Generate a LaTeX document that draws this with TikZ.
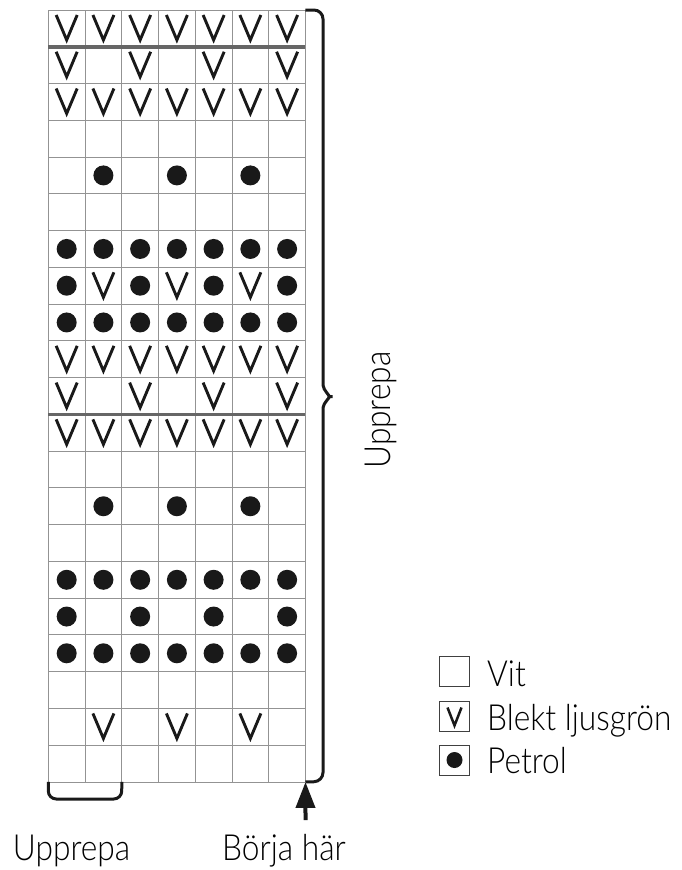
\documentclass[tikz,border=0pt]{standalone}
\usepackage{fontspec}
\setmainfont{Lato Light}[FakeStretch=0.88]
\usetikzlibrary{arrows.meta}

\begin{document}
\begin{tikzpicture}[
  x=1pt,y=-1pt,
  font=\fontsize{36}{40}\selectfont,
  gridline/.style={draw=gray!85,line width=0.9pt},
  rowmark/.style={draw=gray!80!black,line width=3.5pt},
  stitchv/.style={draw=black!90,line width=2.9pt},
  stitchdot/.style={fill=black!90},
  bracket/.style={draw=black!90,line width=3pt,rounded corners=9pt},
  keybox/.style={draw=black!75,line width=0.8pt,minimum size=30pt,inner sep=0pt},
  keylabel/.style={anchor=base west,inner sep=0pt},
  startarrow/.style={-{Triangle[width=19pt,length=26pt]},draw=black!90,line width=4pt}
]
  \useasboundingbox (0,0) rectangle (682,870);

  \begin{scope}[shift={(48.3,10)},x=36.74pt,y=-36.76pt]
    \foreach \c in {0,...,7}
      \draw[gridline] (\c,0) -- (\c,21);
    \foreach \r in {0,...,21}
      \draw[gridline] (0,\r) -- (7,\r);
    \draw[rowmark] (0,1) -- (7,1);
    \draw[rowmark] (0,11) -- (7,11);

    \foreach \r/\cols in {1/{1,...,7},2/{1,3,5,7},3/{1,...,7},8/{2,4,6},
                          10/{1,...,7},11/{1,3,5,7},12/{1,...,7},20/{2,4,6}}
      \foreach \c in \cols
        \draw[stitchv] (\c-0.786,\r-0.864) -- (\c-0.5,\r-0.184) -- (\c-0.214,\r-0.864);

    \foreach \r/\cols in {5/{2,4,6},7/{1,...,7},8/{1,3,5,7},9/{1,...,7},
                          14/{2,4,6},16/{1,...,7},17/{1,3,5,7},18/{1,...,7}}
      \foreach \c in \cols
        \fill[stitchdot] (\c-0.5,\r-0.5) circle[radius=10pt];

    \coordinate (gridNE) at (7,0);
    \coordinate (gridSE) at (7,21);
    \coordinate (gridSW) at (0,21);
    \coordinate (repeatend) at (2,21);
  \end{scope}

  \draw[bracket] (gridNE) -- (323,10) -- (323,376)
    .. controls (323,390) and (331,396.7) .. (338,396.7)
    .. controls (331,396.7) and (323,403) .. (323,417)
    -- (323,781.5) -- (gridSE);
  \draw[bracket,rounded corners=8pt] (gridSW) -- (48.3,799) -- (121.7,799) -- (repeatend);

  \coordinate (arrowfoot) at (305.5,820);
  \draw[startarrow] (arrowfoot) -- (gridSE);

  \node[rotate=90] (sidelabel) at (381,410) {Upprepa};
  \node[anchor=base] (repeatlabel) at (71.5,860) {Upprepa};
  \node[anchor=base] (startlabel) at (284,860) {Börja här};

  \node[keybox] (vitbox) at (454.5,671) {};
  \node[keybox] (greenbox) at (454.5,716.5) {};
  \node[keybox] (petrolbox) at (454.5,760) {};
  \draw[stitchv,line width=2.5pt] (greenbox.center) ++(-7,-9) -- ++(7,18) -- ++(7,-18);
  \fill[stitchdot] (petrolbox) circle[radius=8pt];

  \node[keylabel] (vitlabel) at (487,686) {Vit};
  \node[keylabel] (greenlabel) at (487,730) {Blekt ljusgrön};
  \node[keylabel] (petrollabel) at (487,773) {Petrol};
\end{tikzpicture}
\end{document}
